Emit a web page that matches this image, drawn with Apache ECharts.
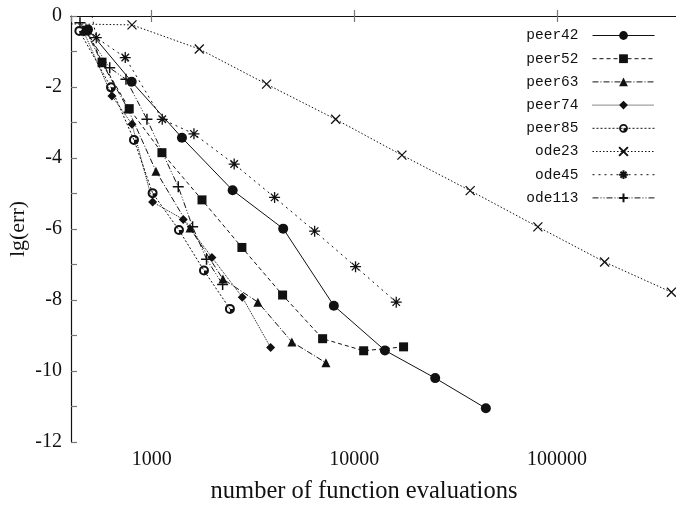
<!DOCTYPE html>
<html>
<head>
<meta charset="utf-8">
<script src="https://cdn.jsdelivr.net/npm/echarts@6/dist/echarts.min.js"></script>
<style>
  html, body { margin: 0; padding: 0; background: #fff; }
  #chart { width: 676px; height: 505px; }
</style>
</head>
<body>
<div id="chart"></div>
<script>
// Work–precision data: number of function evaluations vs. lg of the error
const peer42Evals = [485, 797, 1411, 2510, 4457, 7925, 14160, 25060, 44570];
const peer42Err   = [-0.38, -1.85, -3.43, -4.91, -5.99, -8.16, -9.42, -10.20, -11.05];

const peer52Evals = [480, 569, 775, 1124, 1772, 2788, 4427, 6976, 11120, 17500];
const peer52Err   = [-0.40, -1.30, -2.61, -3.85, -5.18, -6.52, -7.86, -9.09, -9.43, -9.32];

const peer63Evals = [474, 569, 764, 1050, 1546, 2248, 3344, 4921, 7244];
const peer63Err   = [-0.42, -1.32, -2.62, -4.37, -5.97, -7.41, -8.06, -9.18, -9.77];

const peer74Evals = [463, 637, 800, 1011, 1432, 1983, 2800, 3865];
const peer74Err   = [-0.45, -2.25, -3.05, -5.24, -5.73, -6.80, -7.92, -9.34];

const peer85Evals = [440, 630, 818, 1011, 1364, 1812, 2433];
const peer85Err   = [-0.42, -2.01, -3.49, -4.99, -6.03, -7.17, -8.25];

const ode23Evals  = [370, 800, 1718, 3690, 8090, 17180, 37300, 80500, 171800, 367000];
const ode23Err    = [-0.22, -0.25, -0.93, -1.92, -2.91, -3.92, -4.92, -5.94, -6.93, -7.78];

const ode45Evals  = [470, 533, 741, 1128, 1617, 2554, 4042, 6370, 10140, 16100];
const ode45Err    = [1.0, -0.61, -1.17, -2.91, -3.32, -4.17, -5.11, -6.06, -7.06, -8.06];

const ode113Evals = [443, 621, 747, 948, 1353, 1592, 1866, 2240];
const ode113Err   = [-0.19, -1.46, -1.78, -2.91, -4.81, -5.94, -6.85, -7.56];

// Axis ranges and tick labels
const xRange = [400, 400000];
const yRange = [-12, 0];
const xTickLabels = ['1000', '10000', '100000'];

// Point markers
const SYM_CROSS = 'path://M0 0L10 10M10 0L0 10';
const SYM_STAR  = 'path://M5 0L5 10M0 5L10 5M1.6 1.6L8.4 8.4M8.4 1.6L1.6 8.4';
const SYM_PLUS  = 'path://M5 0L5 10M0 5L10 5';
const SYM_RING  = 'path://M10 0A10 10 0 1 1 10 20A10 10 0 1 1 10 0Z' +
                  'M10 4A6 6 0 1 0 10 16A6 6 0 1 0 10 4Z' +
                  'M10 10L16 10A6 6 0 0 1 10 16Z';

const INK = '#111';

function pairs(xs, ys) { return xs.map((x, i) => [x, ys[i]]); }

function makeSeries(name, xs, ys, symbol, size, dash, strokeWidth) {
  return {
    name: name,
    type: 'line',
    xAxisIndex: 0,
    yAxisIndex: 0,
    data: pairs(xs, ys),
    symbol: symbol,
    symbolSize: size,
    showAllSymbol: true,
    clip: true,
    lineStyle: { color: INK, width: 1, type: dash },
    itemStyle: strokeWidth
      ? { color: INK, borderColor: INK, borderWidth: strokeWidth }
      : { color: INK, borderWidth: 0 },
    emphasis: { disabled: true },
    z: 2
  };
}

const series = [
  makeSeries('peer42', peer42Evals, peer42Err, 'circle', 10, 'solid', 0),
  makeSeries('peer52', peer52Evals, peer52Err, 'rect', 9, [4, 3], 0),
  makeSeries('peer63', peer63Evals, peer63Err, 'triangle', 9, [6, 2, 1, 2], 0),
  makeSeries('peer74', peer74Evals, peer74Err, 'diamond', 9, [1, 1], 0),
  makeSeries('peer85', peer85Evals, peer85Err, SYM_RING, 10, [2, 2], 0),
  makeSeries('ode23', ode23Evals, ode23Err, SYM_CROSS, 9, [1.5, 2], 1.3),
  makeSeries('ode45', ode45Evals, ode45Err, SYM_STAR, 11, [2, 4], 1.3),
  makeSeries('ode113', ode113Evals, ode113Err, SYM_PLUS, 11, [6, 2, 1, 2, 1, 2], 1.5)
];

const serif = '"Liberation Serif", "DejaVu Serif", serif';

const chart = echarts.init(document.getElementById('chart'), null, { renderer: 'canvas' });
chart.setOption({
  animation: false,
  backgroundColor: '#fff',
  grid: { left: 71, top: 16, right: -3, bottom: 63, containLabel: false, outerBoundsMode: 'none' },
  legend: {
    orient: 'vertical',
    align: 'right',
    right: 16,
    top: 23,
    itemWidth: 62,
    itemHeight: 11,
    itemGap: 8.2,
    selectedMode: false,
    lineStyle: { width: 1 },
    textStyle: {
      fontFamily: '"Liberation Mono", "DejaVu Sans Mono", monospace',
      fontSize: 14.5,
      color: '#111',
      lineHeight: 14,
      padding: [0, 9, 0, 0]
    },
    data: series.map(s => s.name)
  },
  xAxis: [
    {
      type: 'log',
      logBase: 10,
      min: xRange[0],
      max: xRange[1],
      position: 'bottom',
      name: 'number of function evaluations',
      nameLocation: 'middle',
      nameGap: 37,
      nameMoveOverlap: false,
      nameTextStyle: { fontFamily: serif, fontSize: 24.5, color: '#111', padding: [0, 22, 0, 0] },
      axisLine: { show: true, lineStyle: { color: '#111', width: 1.2 } },
      axisTick: { show: true, inside: true, length: 6, lineStyle: { color: '#777', width: 1.2 } },
      axisLabel: {
        showMinLabel: false,
        showMaxLabel: false,
        margin: 8,
        fontFamily: serif,
        fontSize: 20,
        color: '#111',
        formatter: function (v) {
          const s = String(Math.round(v));
          return xTickLabels.indexOf(s) >= 0 ? s : '';
        }
      },
      splitLine: { show: false }
    },
    {
      type: 'log',
      logBase: 10,
      min: xRange[0],
      max: xRange[1],
      position: 'top',
      axisLine: { show: true, lineStyle: { color: '#111', width: 1.2 } },
      axisTick: { show: true, inside: true, length: 6, lineStyle: { color: '#777', width: 1.2 } },
      axisLabel: { show: false },
      splitLine: { show: false }
    }
  ],
  yAxis: {
    type: 'value',
    min: yRange[0],
    max: yRange[1],
    interval: 1,
    name: 'lg(err)',
    nameLocation: 'middle',
    nameGap: 42,
    nameMoveOverlap: false,
    nameRotate: 90,
    nameTextStyle: { fontFamily: serif, fontSize: 22, color: '#111' },
    axisLine: { show: true, lineStyle: { color: '#111', width: 1.2 } },
    axisTick: { show: true, inside: true, length: 6, lineStyle: { color: '#777', width: 1.2 } },
    axisLabel: {
      margin: 9,
      fontFamily: serif,
      fontSize: 20,
      color: '#111',
      formatter: function (v) { return (Math.round(v) % 2 === 0) ? String(Math.round(v)) : ''; }
    },
    splitLine: { show: false }
  },
  series: series
});
</script>
</body>
</html>
